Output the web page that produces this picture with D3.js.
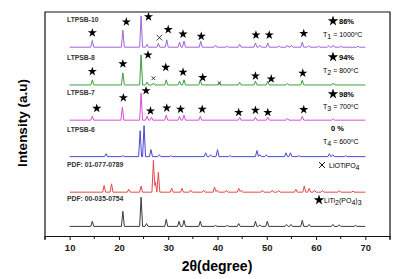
<!DOCTYPE html>
<html>
<head>
<meta charset="utf-8">
<script src="https://cdn.jsdelivr.net/npm/d3@7"></script>
<style>
  body { margin: 0; background: #fff; }
  text { font-family: Arial, "Liberation Sans", sans-serif; }
</style>
</head>
<body>
<div class="chart"></div>
<script>
// Pattern names, colours and vertical offsets (a.u.)
const names = ['LTPSB-10', 'LTPSB-8', 'LTPSB-7', 'LTPSB-6', 'PDF: 01-077-0789', 'PDF: 00-035-0754'];
const colors = ['#a064d8', '#3f9e3f', '#d64fd6', '#4848d8', '#e04a4a', '#3a3a3a'];
const offsets = [590, 472, 362, 248, 137, 30];

// Peaks [2theta, intensity]
const peaksLTPSB10 = [[14.6,21],[20.8,53],[24.5,98],[25.7,9],[28.0,12],[29.7,23],[32.3,16],[33.2,19],[36.6,19],[39.6,6],[42.0,3],[44.5,9],[47.7,13],[48.6,6],[50.2,13],[52.5,4],[54.2,6],[55.0,6],[57.2,16],[58.5,5],[60.5,3],[62.6,5],[63.5,6],[65.0,3],[68.5,3]];
const peaksLTPSB8 = [[14.6,16],[20.8,38],[24.5,94],[25.7,9],[27.0,6],[29.6,16],[32.3,12],[33.2,16],[36.5,16],[40.3,5],[44.5,8],[47.7,12],[50.2,12],[54.2,5],[57.2,15],[63.5,6]];
const peaksLTPSB7 = [[14.6,12],[20.7,41],[24.5,84],[25.7,12],[26.6,9],[29.6,16],[32.3,12],[33.2,16],[36.5,12],[44.5,9],[47.7,9],[50.2,9],[54.2,5],[57.2,12],[63.5,4]];
const peaksLTPSB6 = [[17.4,9],[20.8,3],[24.3,81],[25.1,97],[26.5,22],[28.2,6],[30.5,3],[37.6,12],[38.6,6],[40.0,22],[42.5,3],[48.0,19],[48.6,6],[49.9,6],[53.9,12],[54.8,12],[56.5,3],[62.7,9],[63.4,6],[66.0,3]];
const peaksPDF0789 = [[17.0,21],[18.5,26],[22.0,9],[24.5,19],[27.0,100],[27.4,31],[28.0,62],[30.7,12],[32.8,12],[34.6,6],[37.2,6],[39.4,16],[39.9,6],[41.8,6],[44.3,12],[44.8,6],[49.1,6],[51.1,6],[52.4,5],[55.9,9],[57.6,19],[58.6,12],[59.7,6],[61.3,5],[64.7,5],[67.5,3]];
const peaksPDF0754 = [[14.6,16],[20.8,47],[24.5,91],[25.6,9],[29.6,22],[32.2,16],[33.2,19],[36.5,16],[39.6,3],[42.0,3],[44.3,9],[47.7,16],[48.6,5],[50.1,16],[54.0,6],[54.9,6],[57.2,19],[58.6,6],[63.4,6],[64.7,5],[68.0,3]];
const allPeaks = [peaksLTPSB10, peaksLTPSB8, peaksLTPSB7, peaksLTPSB6, peaksPDF0789, peaksPDF0754];

// Star (LiTi2(PO4)3) and cross (LiOTiPO4) markers [2theta, height above baseline]
const starsLTPSB10 = [[14.6,45],[21.5,79],[26.0,95],[30.0,55],[33.0,41],[36.7,34],[47.8,38],[50.5,38],[57.5,43]];
const starsLTPSB8 = [[14.6,42],[20.8,66],[25.9,94],[29.5,55],[33.0,40],[37.0,23],[47.7,28],[50.9,19],[57.3,37]];
const starsLTPSB7 = [[15.5,37],[20.9,70],[25.5,92],[26.4,29],[29.7,38],[32.5,34],[36.9,34],[44.3,24],[47.7,31],[50.2,24],[57.5,33]];
const allStars = [starsLTPSB10, starsLTPSB8, starsLTPSB7, [], [], []];
const crossesLTPSB10 = [[28.2,30]];
const crossesLTPSB8 = [[27.0,21],[40.4,6]];
const allCrosses = [crossesLTPSB10, crossesLTPSB8, [], [], [], []];

const xTicks = [10, 20, 30, 40, 50, 60, 70];
const xMinor = [5, 15, 25, 35, 45, 55, 65, 75];

const W = 403, H = 279;
const margin = { left: 45, right: 390, top: 12, bottom: 236 };

const svg = d3.select('.chart').append('svg')
    .attr('width', W).attr('height', H);

const x = d3.scaleLinear().domain([5, 75]).range([margin.left, margin.right]);
const y = d3.scaleLinear().domain([0, 700]).range([margin.bottom, margin.top]);

// Peak profile: narrow triangles on a flat baseline
function profile(peaks) {
    const w = 0.3;
    const xs = new Set([10, 70]);
    peaks.forEach(([c]) => { xs.add(c - w); xs.add(c); xs.add(c + w); });
    const pts = Array.from(xs).filter(t => t >= 10 && t <= 70).sort((a, b) => a - b);
    return pts.map(t => [t, d3.max(peaks, ([c, h]) => Math.max(0, h * (1 - Math.abs(t - c) / w)))]);
}

const line = d3.line().x(d => x(d[0])).y(d => d[1]);

allPeaks.forEach((peaks, i) => {
    svg.append('path')
        .datum(profile(peaks).map(d => [d[0], y(d[1] + offsets[i])]))
        .attr('fill', 'none')
        .attr('stroke', colors[i])
        .attr('stroke-width', 1)
        .attr('d', line);

    svg.append('text')
        .attr('x', 67)
        .attr('y', y(offsets[i]) - 25)
        .attr('font-size', 6.8)
        .attr('font-weight', 'bold')
        .attr('fill', '#333')
        .text(names[i]);

    svg.selectAll(null)
        .data(allStars[i])
        .join('path')
            .attr('d', d3.symbol(d3.symbolStar, 26))
            .attr('fill', '#000')
            .attr('transform', d => `translate(${x(d[0])},${y(d[1] + offsets[i])})`);

    svg.selectAll(null)
        .data(allCrosses[i])
        .join('path')
            .attr('d', d3.symbol(d3.symbolX, i === 0 ? 22 : 10))
            .attr('fill', 'none')
            .attr('stroke', '#222')
            .attr('stroke-width', 0.9)
            .attr('transform', d => `translate(${x(d[0])},${y(d[1] + offsets[i])})`);
});

// Frame
svg.append('path')
    .attr('d', `M${margin.left},${margin.bottom + 4}V${margin.top}H${margin.right}V${margin.bottom + 4}`)
    .attr('fill', 'none')
    .attr('stroke', '#111')
    .attr('stroke-width', 1.2);

// Bottom axis
const gx = svg.append('g')
    .attr('transform', `translate(0,${margin.bottom})`)
    .call(d3.axisBottom(x).tickValues(xTicks).tickSize(4).tickSizeOuter(0).tickPadding(4));
gx.select('.domain').attr('stroke', '#111').attr('stroke-width', 1.2);
gx.selectAll('.tick line').attr('stroke', '#111');
gx.selectAll('.tick text')
    .attr('font-size', 9.5)
    .attr('font-weight', 'bold')
    .attr('font-family', 'Arial, "Liberation Sans", sans-serif')
    .attr('fill', '#222');

svg.append('g')
    .attr('transform', `translate(0,${margin.bottom})`)
    .selectAll('line')
    .data(xMinor)
    .join('line')
        .attr('x1', d => x(d)).attr('x2', d => x(d))
        .attr('y1', 0).attr('y2', 3)
        .attr('stroke', '#111');

// Axis titles
svg.append('text')
    .attr('x', 217).attr('y', 271)
    .attr('text-anchor', 'middle')
    .attr('font-size', 14)
    .attr('font-weight', 'bold')
    .text('2θ(degree)');

svg.append('text')
    .attr('transform', 'translate(27,123) rotate(-90)')
    .attr('text-anchor', 'middle')
    .attr('font-size', 13.5)
    .attr('font-weight', 'bold')
    .text('Intensity (a.u)');

// Right-hand annotations
const pcts = [['86%', 24], ['94%', 60], ['98%', 97]];
pcts.forEach(([t, yy]) => {
    svg.append('path')
        .attr('d', d3.symbol(d3.symbolStar, 34))
        .attr('transform', `translate(333,${yy - 3})`);
    svg.append('text')
        .attr('x', 339).attr('y', yy)
        .attr('font-size', 7.5).attr('font-weight', 'bold')
        .text(t);
});
svg.append('text')
    .attr('x', 331).attr('y', 131)
    .attr('font-size', 7.5).attr('font-weight', 'bold')
    .text('0 %');

const temps = [['1', '1000ºC', 37], ['2', '800ºC', 73], ['3', '700ºC', 109], ['4', '600ºC', 144]];
temps.forEach(([s, t, yy]) => {
    const tx = svg.append('text')
        .attr('x', 323).attr('y', yy)
        .attr('font-size', 7);
    tx.append('tspan').text('T');
    tx.append('tspan').attr('dy', 2).text(s);
    tx.append('tspan').attr('dy', -2).text(' = ' + t);
});

svg.append('path')
    .attr('d', d3.symbol(d3.symbolX, 24))
    .attr('fill', 'none').attr('stroke', '#111').attr('stroke-width', 1)
    .attr('transform', 'translate(322,165)');
const t1 = svg.append('text').attr('x', 329).attr('y', 168).attr('font-size', 7);
t1.append('tspan').text('LiOTiPO');
t1.append('tspan').attr('dy', 2).text('4');

svg.append('path')
    .attr('d', d3.symbol(d3.symbolStar, 34))
    .attr('transform', 'translate(319,200)');
const t2 = svg.append('text').attr('x', 324).attr('y', 203).attr('font-size', 7);
t2.append('tspan').text('LiTi');
t2.append('tspan').attr('dy', 2).text('2');
t2.append('tspan').attr('dy', -2).text('(PO');
t2.append('tspan').attr('dy', 2).text('4');
t2.append('tspan').attr('dy', -2).text(')');
t2.append('tspan').attr('dy', 2).text('3');
</script>
</body>
</html>
